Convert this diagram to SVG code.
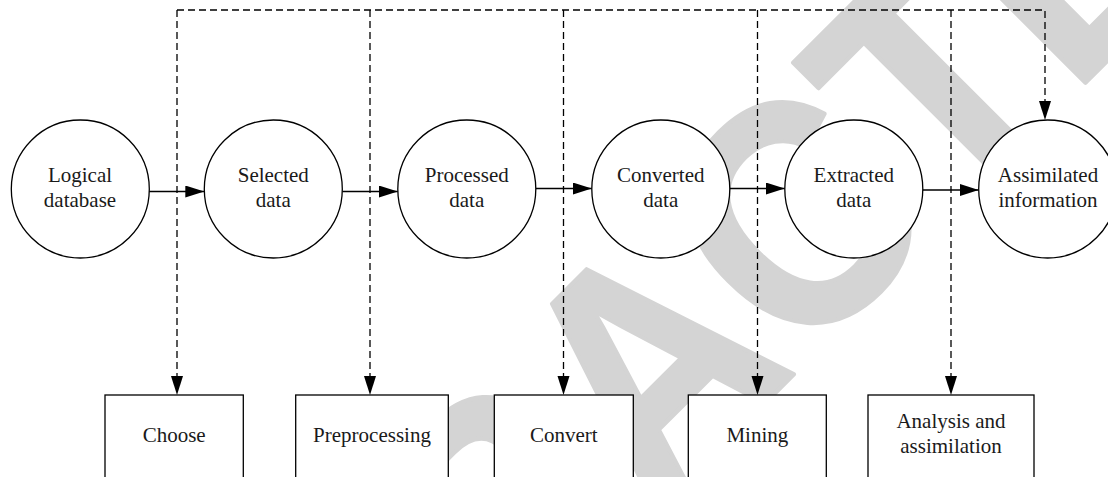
<svg xmlns="http://www.w3.org/2000/svg" width="1108" height="477" viewBox="0 0 1108 477">
  <style>
    .node { fill: #ffffff; stroke: #000000; stroke-width: 1.3; }
    .label { font-family: "Liberation Serif", "Times New Roman", serif; font-size: 21px; fill: #1a1a1a; text-anchor: middle; }
    .flow { fill: none; stroke: #000000; stroke-width: 1.3; }
    .dash { fill: none; stroke: #000000; stroke-width: 1.3; stroke-dasharray: 7 4; }
    .stamp { font-family: "Liberation Sans", Arial, sans-serif; font-weight: bold; font-size: 289px; fill: #d4d4d4; stroke: #d4d4d4; stroke-width: 4; stroke-linejoin: round; font-kerning: none; }
  </style>
  <defs>
    <marker id="arrow" markerUnits="userSpaceOnUse" markerWidth="20" markerHeight="13" refX="19" refY="6" orient="auto">
      <path d="M0,0 L19,6 L0,12 z" fill="#000000" stroke="none"/>
    </marker>
  </defs>

  <rect width="1108" height="477" fill="#ffffff"/>

  <!-- diagonal stamp behind the chart -->
  <g id="stamp" transform="rotate(-45) translate(-691 826) scale(1 1.11)">
    <text class="stamp" x="0" y="0">RETRACTED</text>
  </g>

  <!-- connectors -->
  <g id="connectors">
    <!-- main flow between stages -->
    <line class="flow" x1="149" y1="191.5" x2="204.3" y2="191.5" marker-end="url(#arrow)"/>
    <line class="flow" x1="342.3" y1="191.5" x2="397.8" y2="191.5" marker-end="url(#arrow)"/>
    <line class="flow" x1="535.8" y1="188.5" x2="591.8" y2="188.5" marker-end="url(#arrow)"/>
    <line class="flow" x1="729.8" y1="188.5" x2="784.8" y2="188.5" marker-end="url(#arrow)"/>
    <line class="flow" x1="922.8" y1="190" x2="978.7" y2="190" marker-end="url(#arrow)"/>
    <!-- dashed bus along the top, dropping to every stage and operation -->
    <polyline class="dash" points="177,10 1045,10 1045,120" marker-end="url(#arrow)"/>
    <line class="dash" x1="177" y1="10" x2="177" y2="395" marker-end="url(#arrow)"/>
    <line class="dash" x1="370" y1="10" x2="370" y2="395" marker-end="url(#arrow)"/>
    <line class="dash" x1="563.5" y1="10" x2="563.5" y2="395" marker-end="url(#arrow)"/>
    <line class="dash" x1="757.5" y1="10" x2="757.5" y2="395" marker-end="url(#arrow)"/>
    <line class="dash" x1="951" y1="10" x2="951" y2="395" marker-end="url(#arrow)"/>
  </g>

  <!-- data stages -->
  <g id="logical-database">
    <circle class="node" cx="80.3" cy="189" r="69"/>
    <text class="label" x="80" y="181.5">Logical</text>
    <text class="label" x="80" y="206.5">database</text>
  </g>
  <g id="selected-data">
    <circle class="node" cx="273.3" cy="189" r="69"/>
    <text class="label" x="273.3" y="181.5">Selected</text>
    <text class="label" x="273.3" y="206.5">data</text>
  </g>
  <g id="processed-data">
    <circle class="node" cx="466.8" cy="189" r="69"/>
    <text class="label" x="466.8" y="181.5">Processed</text>
    <text class="label" x="466.8" y="206.5">data</text>
  </g>
  <g id="converted-data">
    <circle class="node" cx="660.8" cy="189" r="69"/>
    <text class="label" x="660.8" y="181.5">Converted</text>
    <text class="label" x="660.8" y="206.5">data</text>
  </g>
  <g id="extracted-data">
    <circle class="node" cx="853.8" cy="189" r="69"/>
    <text class="label" x="853.8" y="181.5">Extracted</text>
    <text class="label" x="853.8" y="206.5">data</text>
  </g>
  <g id="assimilated-information">
    <circle class="node" cx="1047.7" cy="189" r="69"/>
    <text class="label" x="1048" y="181.5">Assimilated</text>
    <text class="label" x="1048" y="206.5">information</text>
  </g>

  <!-- operations -->
  <g id="choose">
    <rect class="node" x="105" y="395" width="138.3" height="100"/>
    <text class="label" x="174.2" y="441.7">Choose</text>
  </g>
  <g id="preprocessing">
    <rect class="node" x="295.7" y="395" width="152.6" height="100"/>
    <text class="label" x="372" y="441.7">Preprocessing</text>
  </g>
  <g id="convert">
    <rect class="node" x="494.3" y="395" width="139" height="100"/>
    <text class="label" x="563.8" y="441.7">Convert</text>
  </g>
  <g id="mining">
    <rect class="node" x="688.3" y="395" width="138" height="100"/>
    <text class="label" x="757.3" y="441.7">Mining</text>
  </g>
  <g id="analysis-and-assimilation">
    <rect class="node" x="868" y="395" width="166" height="100"/>
    <text class="label" x="951" y="428.3">Analysis and</text>
    <text class="label" x="951" y="453.3">assimilation</text>
  </g>
</svg>
